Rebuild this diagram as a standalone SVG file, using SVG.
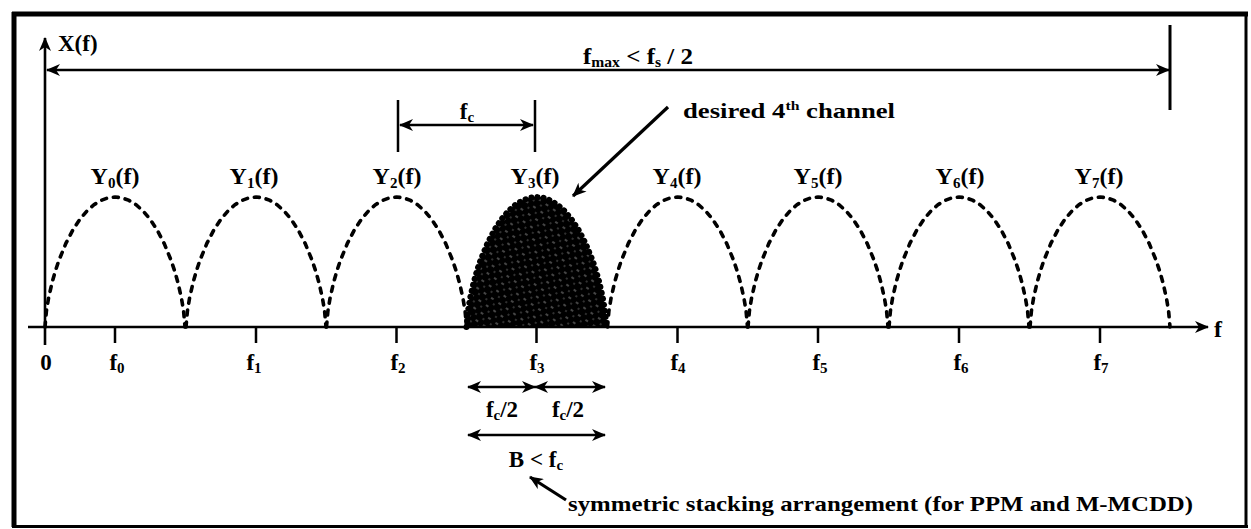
<svg xmlns="http://www.w3.org/2000/svg" width="1251" height="529" viewBox="0 0 1251 529">
<style>
text{font-family:"Liberation Serif","Times New Roman",serif;font-weight:bold;fill:#000}
.ln{stroke:#000;stroke-width:2.6;fill:none}
.dash{stroke:#000;stroke-width:3.6;fill:none;stroke-dasharray:5 7;stroke-linecap:round}
.lbl{font-size:24px;text-anchor:middle}
.tk{font-size:23px;text-anchor:middle}
.sub{font-size:15px}
</style>
<defs>
<marker id="ah" viewBox="0 0 14 12" refX="13" refY="6" markerWidth="14" markerHeight="12" orient="auto-start-reverse" markerUnits="userSpaceOnUse">
<path d="M0,0 L14,6 L0,12 L4,6 z" fill="#000"/>
</marker>
<path id="lobe" d="M-70,0 L-68.6,-15.9 L-66.5,-28.6 L-63,-44.2 L-59.5,-56.5 L-56,-66.9 L-49,-83.9 L-42,-97.3 L-35,-107.8 L-28,-116.1 L-21,-122.3 L-14,-126.6 L-7,-129.2 L0,-130 L7,-129.2 L14,-126.6 L21,-122.3 L28,-116.1 L35,-107.8 L42,-97.3 L49,-83.9 L56,-66.9 L59.5,-56.5 L63,-44.2 L66.5,-28.6 L68.6,-15.9 L70,0"/>
<pattern id="hatch" width="9" height="9" patternUnits="userSpaceOnUse" patternTransform="rotate(35)">
<rect width="9" height="9" fill="#000"/>
<line x1="0" y1="2" x2="3" y2="2" stroke="#999" stroke-width="0.9"/>
<line x1="5" y1="6" x2="7" y2="6" stroke="#777" stroke-width="0.8"/>
</pattern>
</defs>
<rect width="1251" height="529" fill="#fff"/>
<g id="frame">
<path d="M14,12 V527" stroke="#000" stroke-width="5"/>
<path d="M12,14 H1248" stroke="#000" stroke-width="5"/>
<path d="M1246,12 V528" stroke="#000" stroke-width="3"/>
<path d="M12,526.5 H1248" stroke="#000" stroke-width="3"/>
</g>
<g id="lobes">
<use href="#lobe" class="dash" transform="translate(115,327)"/>
<use href="#lobe" class="dash" transform="translate(256,327)"/>
<use href="#lobe" class="dash" transform="translate(396.5,327)"/>
<g id="desired-lobe">
<use href="#lobe" fill="url(#hatch)" stroke="#000" stroke-width="6" stroke-dasharray="0.1 6" stroke-linecap="round" transform="translate(536.5,327)"/>
</g>
<use href="#lobe" class="dash" transform="translate(677.5,327)"/>
<use href="#lobe" class="dash" transform="translate(818,327)"/>
<use href="#lobe" class="dash" transform="translate(959,327)"/>
<use href="#lobe" class="dash" transform="translate(1100,327)"/>
</g>
<g id="connectors">
<path class="ln" d="M45,345 V38" marker-end="url(#ah)"/>
<path class="ln" d="M28,327 H1208" marker-end="url(#ah)"/>
<path class="ln" d="M47,70 H1169" marker-start="url(#ah)" marker-end="url(#ah)"/>
<path d="M1170,25 V110" stroke="#000" stroke-width="3"/>
<path d="M398,100 V152 M535,100 V152" stroke="#000" stroke-width="2.5"/>
<path class="ln" d="M400,125 H533" marker-start="url(#ah)" marker-end="url(#ah)"/>
<path d="M668,107 L573,196" stroke="#000" stroke-width="3.2" fill="none" marker-end="url(#ah)"/>
<path class="ln" d="M468,387 H535" marker-start="url(#ah)" marker-end="url(#ah)"/>
<path class="ln" d="M535,387 H605" marker-start="url(#ah)" marker-end="url(#ah)"/>
<path class="ln" d="M468,435 H605" marker-start="url(#ah)" marker-end="url(#ah)"/>
<path d="M566,500 L530,477" stroke="#000" stroke-width="3.2" fill="none" marker-end="url(#ah)"/>
<path d="M115,327 V343 M256,327 V343 M396.5,327 V343 M536.5,327 V343 M677.5,327 V343 M818,327 V343 M959,327 V343 M1100,327 V343" stroke="#000" stroke-width="2.5"/>
</g>
<g id="labels">
<text x="58" y="51" font-size="23">X(f)</text>
<text x="1214" y="337" font-size="24">f</text>
<text x="583" y="64" font-size="24" textLength="110" lengthAdjust="spacingAndGlyphs">f<tspan class="sub" dy="3">max</tspan><tspan dy="-3"> &lt; f</tspan><tspan class="sub" dy="3">s</tspan><tspan dy="-3"> / 2</tspan></text>
<text x="467" y="119" class="tk">f<tspan class="sub" dy="3">c</tspan></text>
<text x="683" y="118" font-size="22" textLength="212" lengthAdjust="spacingAndGlyphs">desired  4<tspan font-size="13" dy="-8">th</tspan><tspan dy="8">  channel</tspan></text>
<text x="115" y="184" class="lbl">Y<tspan class="sub" dy="4">0</tspan><tspan dy="-4">(f)</tspan></text>
<text x="254" y="184" class="lbl">Y<tspan class="sub" dy="4">1</tspan><tspan dy="-4">(f)</tspan></text>
<text x="397" y="184" class="lbl">Y<tspan class="sub" dy="4">2</tspan><tspan dy="-4">(f)</tspan></text>
<text x="535" y="184" class="lbl">Y<tspan class="sub" dy="4">3</tspan><tspan dy="-4">(f)</tspan></text>
<text x="677" y="184" class="lbl">Y<tspan class="sub" dy="4">4</tspan><tspan dy="-4">(f)</tspan></text>
<text x="818" y="184" class="lbl">Y<tspan class="sub" dy="4">5</tspan><tspan dy="-4">(f)</tspan></text>
<text x="960" y="184" class="lbl">Y<tspan class="sub" dy="4">6</tspan><tspan dy="-4">(f)</tspan></text>
<text x="1099" y="184" class="lbl">Y<tspan class="sub" dy="4">7</tspan><tspan dy="-4">(f)</tspan></text>
<text x="46" y="370" class="tk">0</text>
<text x="117" y="370" class="tk">f<tspan class="sub" dy="3">0</tspan></text>
<text x="254" y="370" class="tk">f<tspan class="sub" dy="3">1</tspan></text>
<text x="398" y="370" class="tk">f<tspan class="sub" dy="3">2</tspan></text>
<text x="537" y="370" class="tk">f<tspan class="sub" dy="3">3</tspan></text>
<text x="678" y="370" class="tk">f<tspan class="sub" dy="3">4</tspan></text>
<text x="820" y="370" class="tk">f<tspan class="sub" dy="3">5</tspan></text>
<text x="961" y="370" class="tk">f<tspan class="sub" dy="3">6</tspan></text>
<text x="1101" y="370" class="tk">f<tspan class="sub" dy="3">7</tspan></text>
<text x="502" y="417" class="tk">f<tspan class="sub" dy="3">c</tspan><tspan dy="-3">/2</tspan></text>
<text x="568" y="417" class="tk">f<tspan class="sub" dy="3">c</tspan><tspan dy="-3">/2</tspan></text>
<text x="536" y="467" class="tk">B &lt; f<tspan class="sub" dy="3">c</tspan></text>
<text x="568" y="511" font-size="22" textLength="625" lengthAdjust="spacingAndGlyphs">symmetric stacking arrangement (for PPM and M-MCDD)</text>
</g>
</svg>
